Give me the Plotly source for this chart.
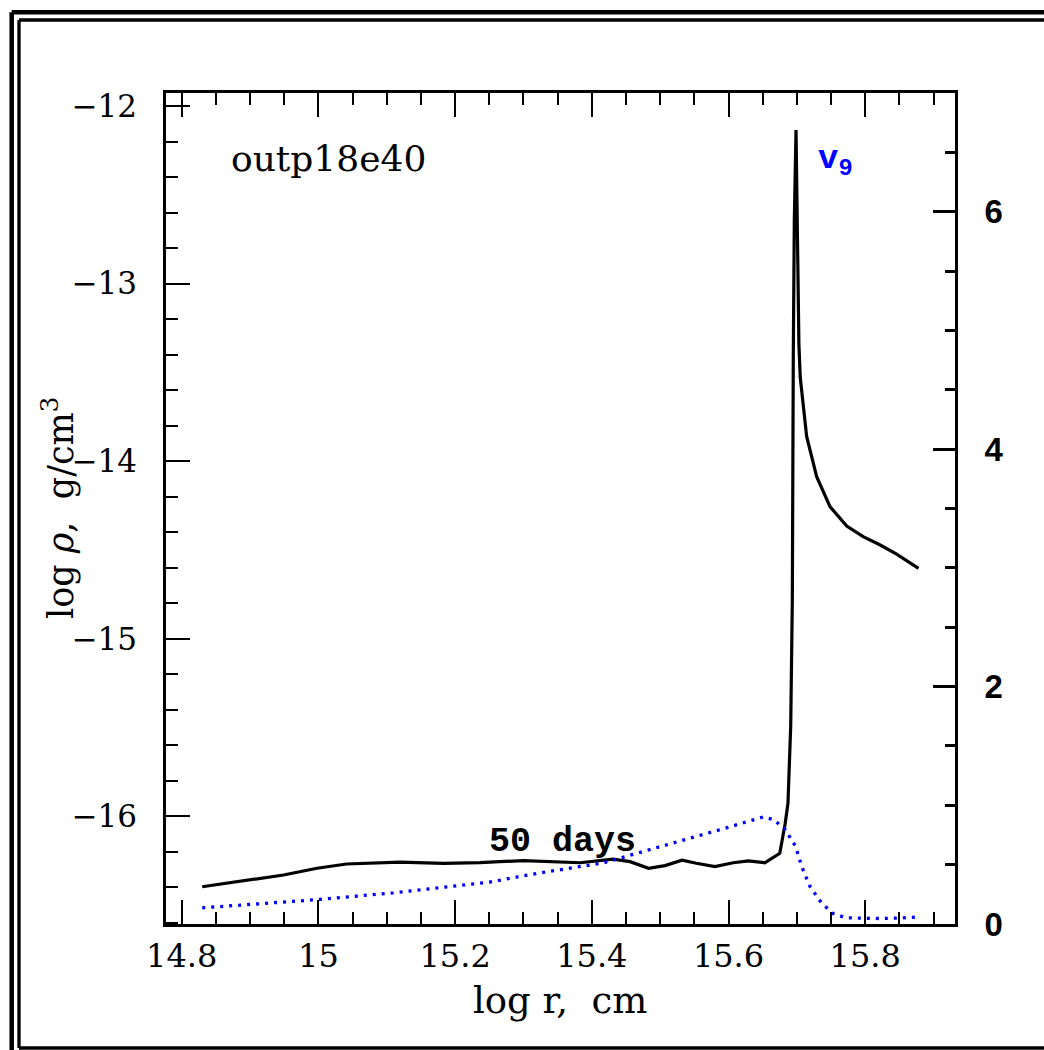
import plotly.graph_objects as go

# log r (cm) grid and log density for the 50-day snapshot
log_r_rho = [14.830, 14.949, 14.998, 15.041, 15.119, 15.183, 15.236, 15.300, 15.383,
             15.412, 15.431, 15.456, 15.483, 15.507, 15.532, 15.553, 15.580, 15.607,
             15.629, 15.653, 15.675, 15.683, 15.687, 15.691, 15.6934, 15.6948, 15.6963,
             15.6988, 15.7030, 15.7050, 15.7144, 15.729, 15.7485, 15.773, 15.797, 15.822,
             15.846, 15.878]
log_rho = [-16.396, -16.330, -16.292, -16.268, -16.257, -16.264, -16.260, -16.249, -16.261,
           -16.249, -16.241, -16.255, -16.292, -16.277, -16.247, -16.264, -16.283, -16.261,
           -16.251, -16.261, -16.208, -16.039, -15.926, -15.495, -14.78, -13.41, -12.64,
           -12.135, -13.34, -13.53, -13.862, -14.087, -14.256, -14.365, -14.425, -14.472,
           -14.523, -14.603]

# velocity in units of 1e9 cm/s
log_r_v = [14.830, 14.90, 15.00, 15.11, 15.20, 15.25, 15.31, 15.417, 15.471, 15.529,
           15.597, 15.651, 15.666, 15.683, 15.698, 15.707, 15.719, 15.736, 15.753, 15.772,
           15.80, 15.822, 15.85, 15.873]
v9 = [0.136, 0.165, 0.206, 0.263, 0.318, 0.352, 0.417, 0.515, 0.604, 0.697,
      0.81, 0.902, 0.88, 0.795, 0.655, 0.487, 0.318, 0.178, 0.088, 0.052,
      0.046, 0.046, 0.050, 0.057]

x_ticks = [14.8, 15.0, 15.2, 15.4, 15.6, 15.8]
x_tick_text = ["14.8", "15", "15.2", "15.4", "15.6", "15.8"]
y_ticks = [-16, -15, -14, -13, -12]
y_tick_text = ["\u221216", "\u221215", "\u221214", "\u221213", "\u221212"]
v_ticks = [0, 2, 4, 6]
v_tick_text = ["0", "2", "4", "6"]

W, H = 1044, 1050
L, R, T, B = 166, 955, 93, 924

SERIF = "DejaVu Serif"

fig = go.Figure()
fig.add_trace(go.Scatter(x=log_r_rho, y=log_rho, mode="lines",
                         line=dict(color="black", width=3.2), showlegend=False))
fig.add_trace(go.Scatter(x=log_r_v, y=v9, mode="lines", yaxis="y2",
                         line=dict(color="#0000ff", width=3.3, dash="3px,6px"),
                         showlegend=False))


def px_x(p):
    return (p - L) / (R - L)


def px_y(p):
    return (B - p) / (B - T)


axis_common = dict(showgrid=False, zeroline=False, showline=True, linecolor="black",
                   ticks="inside", tickcolor="black")

fig.update_layout(
    width=W, height=H, autosize=False,
    margin=dict(l=L, r=W - R, t=T, b=H - B),
    paper_bgcolor="white", plot_bgcolor="white",
    xaxis=dict(range=[14.777, 15.9314], tickvals=x_ticks, ticktext=x_tick_text,
               ticklen=24, tickwidth=2, linewidth=2.5, mirror="ticks",
               minor=dict(tick0=14.8, dtick=0.05, ticks="inside", ticklen=12,
                          tickwidth=2, tickcolor="black"),
               tickfont=dict(family=SERIF, size=32, color="black"),
               ticklabelstandoff=2,
               **axis_common),
    yaxis=dict(range=[-16.6059, -11.9268], tickvals=y_ticks, ticktext=y_tick_text,
               ticklen=24, tickwidth=2, linewidth=2.5,
               minor=dict(tick0=-12, dtick=0.2, ticks="inside", ticklen=12,
                          tickwidth=2, tickcolor="black"),
               tickfont=dict(family=SERIF, size=31, color="black"),
               ticklabelstandoff=20,
               **axis_common),
    yaxis2=dict(range=[0, 7], overlaying="y", side="right", tickvals=v_ticks,
                ticktext=v_tick_text, ticklen=22, tickwidth=3, linewidth=3,
                minor=dict(dtick=0.5, ticks="inside", ticklen=10, tickwidth=3,
                           tickcolor="black"),
                tickfont=dict(family="Liberation Sans", size=33, color="black",
                              weight="bold"),
                ticklabelstandoff=20,
                **axis_common),
)

annotations = [
    dict(text="log <i>\u03c1</i>,  g/cm<sup>3</sup>", textangle=-90,
         x=px_x(58), y=px_y(508), xanchor="center", yanchor="middle",
         font=dict(family=SERIF, size=35, color="black")),
    dict(text="log r,  cm", x=px_x(560), y=px_y(1000), xanchor="center",
         yanchor="middle", font=dict(family=SERIF, size=37, color="black")),
    dict(text="outp18e40", x=px_x(229), y=px_y(158), xanchor="left", yanchor="middle",
         font=dict(family=SERIF, size=36, color="black")),
    dict(text="<b>50 days</b>", x=px_x(562), y=px_y(842), xanchor="center",
         yanchor="middle", font=dict(family="Liberation Mono", size=35, color="black")),
    dict(text="<b>v<sub>9</sub></b>", x=px_x(816), y=px_y(161), xanchor="left",
         yanchor="middle", font=dict(family="Liberation Mono", size=34, color="#0000ff")),
]
for a in annotations:
    a.update(xref="paper", yref="paper", showarrow=False)
fig.update_layout(annotations=annotations)

# double frame on the top and left edges, single line along the bottom
frame_lines = [
    dict(x0=11.7, y0=12.2, x1=1050, y1=12.2, width=4.5),
    dict(x0=11.7, y0=12.2, x1=11.7, y1=1056, width=4.5),
    dict(x0=19.0, y0=20.0, x1=1050, y1=20.0, width=3.3),
    dict(x0=19.0, y0=20.0, x1=19.0, y1=1048, width=3.3),
    dict(x0=19.0, y0=1048, x1=1050, y1=1048, width=3.3),
]
fig.update_layout(shapes=[
    dict(type="line", xref="paper", yref="paper",
         x0=px_x(f["x0"]), x1=px_x(f["x1"]), y0=px_y(f["y0"]), y1=px_y(f["y1"]),
         line=dict(color="black", width=f["width"]))
    for f in frame_lines
])

fig.write_html("out.html")
